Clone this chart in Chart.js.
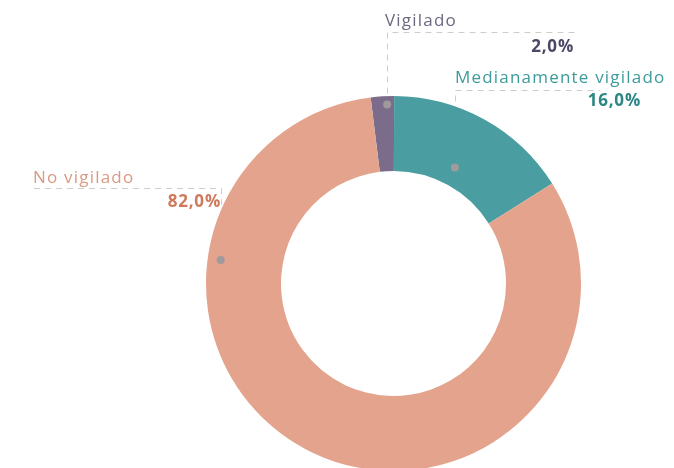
<!DOCTYPE html>
<html>
<head>
<meta charset="utf-8">
<script src="https://cdn.jsdelivr.net/npm/chart.js@4/dist/chart.umd.min.js"></script>
<style>
  html, body { margin: 0; padding: 0; background: #fff; overflow: hidden; }
  #wrap { position: absolute; left: 0; top: 0; width: 674px; height: 476px; }
</style>
</head>
<body>
<div id="wrap"><canvas id="chart" width="674" height="476"></canvas></div>
<script>
// data
var categories = ['Vigilado', 'Medianamente vigilado', 'No vigilado'];
var shares = [2.0, 16.0, 82.0];

var sliceColors = ['#7b6c8c', '#4a9ea1', '#e3a38c'];
var nameColors = ['#6d687f', '#3d9b9b', '#d99a84'];
var valueColors = ['#4d4766', '#2c8785', '#cf7a5c'];

// where the callouts sit (anchor on the slice + text box)
var callouts = [
    { angleFrac: 0.69, radiusFrac: 0.955, lineY: 32, lineToX: 575, nameX: 385, nameY: 26, valueX: 574, valueY: 52 },
    { angleFrac: 0.48, radiusFrac: 0.70, lineY: 90, lineToX: 600, nameX: 455, nameY: 83, valueX: 641, valueY: 106 },
    { angleFrac: 0.745, radiusFrac: 0.93, lineY: 188, lineToX: 33, nameX: 33, nameY: 183, valueX: 221, valueY: 207 }
];

function fmt(v) {
    return v.toFixed(1).replace('.', ',') + '%';
}

function anchorOf(arc, c) {
    var p = arc.getProps(['x', 'y', 'startAngle', 'endAngle', 'outerRadius']);
    var a = p.startAngle + (p.endAngle - p.startAngle) * c.angleFrac;
    var r = p.outerRadius * c.radiusFrac;
    return { x: p.x + Math.cos(a) * r, y: p.y + Math.sin(a) * r };
}

var calloutPlugin = {
    id: 'callouts',
    beforeDatasetsDraw: function(chart) {
        var ctx = chart.ctx;
        var meta = chart.getDatasetMeta(0);
        ctx.save();
        ctx.strokeStyle = '#cdcdcd';
        ctx.lineWidth = 1;
        ctx.setLineDash([6, 5]);
        meta.data.forEach(function(arc, i) {
            var c = callouts[i];
            var pt = anchorOf(arc, c);
            var x = Math.round(pt.x) + 0.5;
            ctx.beginPath();
            ctx.moveTo(x, pt.y);
            ctx.lineTo(x, c.lineY + 0.5);
            ctx.lineTo(c.lineToX, c.lineY + 0.5);
            ctx.stroke();
        });
        ctx.restore();
    },
    afterDatasetsDraw: function(chart) {
        var ctx = chart.ctx;
        var meta = chart.getDatasetMeta(0);
        ctx.save();
        meta.data.forEach(function(arc, i) {
            var c = callouts[i];
            var pt = anchorOf(arc, c);
            ctx.fillStyle = '#a09a9c';
            ctx.beginPath();
            ctx.arc(pt.x, pt.y, 4, 0, Math.PI * 2);
            ctx.fill();

            ctx.textBaseline = 'alphabetic';
            ctx.letterSpacing = '1.2px';
            ctx.font = '17px "Open Sans", sans-serif';
            ctx.fillStyle = nameColors[i];
            ctx.textAlign = 'left';
            ctx.fillText(categories[i], c.nameX, c.nameY);

            ctx.letterSpacing = '0.8px';
            ctx.font = 'bold 17px "Open Sans", sans-serif';
            ctx.fillStyle = valueColors[i];
            ctx.textAlign = 'right';
            ctx.fillText(fmt(shares[i]), c.valueX, c.valueY);
        });
        ctx.restore();
    }
};

new Chart(document.getElementById('chart'), {
    type: 'doughnut',
    data: {
        labels: categories,
        datasets: [{
            data: shares,
            backgroundColor: sliceColors,
            borderWidth: 0
        }]
    },
    options: {
        responsive: false,
        animation: false,
        rotation: -7,
        cutout: '60%',
        layout: { padding: { left: 206, right: 93, top: 96, bottom: 5 } },
        plugins: {
            legend: { display: false },
            tooltip: { enabled: false }
        }
    },
    plugins: [calloutPlugin]
});
</script>
</body>
</html>
